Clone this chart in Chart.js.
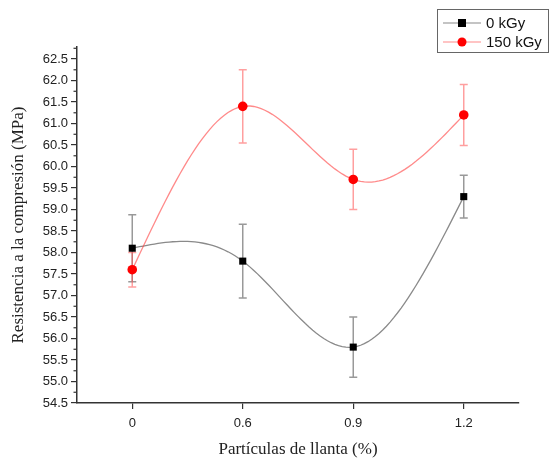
<!DOCTYPE html>
<html>
<head>
<meta charset="utf-8">
<script src="https://cdn.jsdelivr.net/npm/chart.js@4/dist/chart.umd.min.js"></script>
<style>
  html, body { margin: 0; padding: 0; background: #fff; }
  #wrap { width: 551px; height: 458px; }
</style>
</head>
<body>
<div id="wrap"><canvas id="resChart" width="551" height="458"></canvas></div>
<script>
// data
const particulas = ['0', '0.6', '0.9', '1.2'];
const res0kGy = [58.1, 57.8, 55.8, 59.3];
const err0kGy = [0.78, 0.86, 0.7, 0.5];
const res150kGy = [57.6, 61.4, 59.7, 61.2];
const err150kGy = [0.4, 0.85, 0.7, 0.71];
const yTicks = [54.5, 55.0, 55.5, 56.0, 56.5, 57.0, 57.5, 58.0, 58.5, 59.0, 59.5, 60.0, 60.5, 61.0, 61.5, 62.0, 62.5];

const tickFont = { family: 'Liberation Sans, Arial, sans-serif', size: 13 };
const titleFont = { family: 'Liberation Serif, Times New Roman, serif', size: 17, lineHeight: 1 };

// natural cubic spline second derivatives (equal spacing)
function splineM(ys) {
    const n = ys.length;
    const M = new Array(n).fill(0);
    if (n < 3) return M;
    const a = [], b = [], c = [], d = [];
    for (let i = 1; i < n - 1; i++) {
        a.push(1); b.push(4); c.push(1);
        d.push(6 * (ys[i - 1] - 2 * ys[i] + ys[i + 1]));
    }
    const m = d.length;
    for (let i = 1; i < m; i++) {
        const w = a[i] / b[i - 1];
        b[i] -= w * c[i - 1];
        d[i] -= w * d[i - 1];
    }
    const sol = new Array(m);
    sol[m - 1] = d[m - 1] / b[m - 1];
    for (let i = m - 2; i >= 0; i--) sol[i] = (d[i] - c[i] * sol[i + 1]) / b[i];
    for (let i = 0; i < m; i++) M[i + 1] = sol[i];
    return M;
}

// error bars and spline curves, drawn under the markers
const errorBarsAndSpline = {
    id: 'errorBarsAndSpline',
    beforeDatasetsDraw(chart) {
        const ctx = chart.ctx;
        const y = chart.scales.y;
        chart.data.datasets.forEach((ds, i) => {
            const meta = chart.getDatasetMeta(i);
            ctx.save();
            ctx.strokeStyle = ds.errColor;
            ctx.lineWidth = 1.5;
            meta.data.forEach((pt, j) => {
                const top = y.getPixelForValue(ds.data[j] + ds.err[j]);
                const bot = y.getPixelForValue(ds.data[j] - ds.err[j]);
                ctx.beginPath();
                ctx.moveTo(pt.x, top); ctx.lineTo(pt.x, bot);
                ctx.moveTo(pt.x - 4, top); ctx.lineTo(pt.x + 4, top);
                ctx.moveTo(pt.x - 4, bot); ctx.lineTo(pt.x + 4, bot);
                ctx.stroke();
            });
            ctx.restore();
        });
        chart.data.datasets.forEach((ds, i) => {
            const pts = chart.getDatasetMeta(i).data;
            const ys = pts.map(p => p.y);
            const M = splineM(ys);
            ctx.save();
            ctx.strokeStyle = ds.borderColor;
            ctx.lineWidth = 1.3;
            ctx.beginPath();
            ctx.moveTo(pts[0].x, pts[0].y);
            for (let k = 0; k < pts.length - 1; k++) {
                for (let s = 1; s <= 30; s++) {
                    const t = s / 30, u = 1 - t;
                    const py = ys[k] * u + ys[k + 1] * t +
                        (M[k] * (u * u * u - u) + M[k + 1] * (t * t * t - t)) / 6;
                    const px = pts[k].x + (pts[k + 1].x - pts[k].x) * t;
                    ctx.lineTo(px, py);
                }
            }
            ctx.stroke();
            ctx.restore();
        });
    }
};

// minor ticks on the y axis and the boxed legend
const extras = {
    id: 'extras',
    afterDraw(chart) {
        const ctx = chart.ctx;
        const y = chart.scales.y;
        const left = chart.chartArea.left;
        ctx.save();
        ctx.strokeStyle = '#333';
        ctx.lineWidth = 1.2;
        for (let i = 0; i < yTicks.length; i++) {
            const py = y.getPixelForValue(yTicks[i] + 0.25);
            if (py < chart.chartArea.top) continue;
            ctx.beginPath();
            ctx.moveTo(left - 3.5, py); ctx.lineTo(left, py);
            ctx.stroke();
        }
        // legend
        ctx.fillStyle = '#fff';
        ctx.strokeStyle = '#666';
        ctx.lineWidth = 1;
        ctx.fillRect(437.5, 9.5, 111, 43);
        ctx.strokeRect(437.5, 9.5, 111, 43);
        ctx.font = '15px Liberation Sans, Arial, sans-serif';
        ctx.textBaseline = 'middle';
        chart.data.datasets.forEach((ds, i) => {
            const ly = 23 + i * 19;
            ctx.strokeStyle = ds.borderColor;
            ctx.lineWidth = 1.2;
            ctx.beginPath();
            ctx.moveTo(443, ly); ctx.lineTo(481, ly);
            ctx.stroke();
            ctx.fillStyle = ds.pointBackgroundColor;
            if (ds.pointStyle === 'rect') {
                ctx.fillRect(458, ly - 4, 8, 8);
            } else {
                ctx.beginPath();
                ctx.arc(462, ly, 4.5, 0, Math.PI * 2);
                ctx.fill();
            }
            ctx.fillStyle = '#111';
            ctx.fillText(ds.label, 486, ly + 1);
        });
        ctx.restore();
    }
};

new Chart(document.getElementById('resChart'), {
    type: 'line',
    data: {
        labels: particulas,
        datasets: [{
            label: '0 kGy',
            data: res0kGy,
            err: err0kGy,
            errColor: '#999',
            borderColor: '#8a8a8a',
            showLine: false,
            pointStyle: 'rect',
            pointRadius: 5,
            pointBackgroundColor: '#000',
            pointBorderColor: '#000',
            pointBorderWidth: 0
        }, {
            label: '150 kGy',
            data: res150kGy,
            err: err150kGy,
            errColor: 'rgba(255,80,80,0.55)',
            borderColor: 'rgba(255,60,60,0.6)',
            showLine: false,
            pointStyle: 'circle',
            pointRadius: 4.8,
            pointBackgroundColor: '#f00',
            pointBorderColor: '#f00',
            pointBorderWidth: 0
        }]
    },
    options: {
        responsive: false,
        animation: false,
        layout: { padding: { top: 47, right: 32, left: 0, bottom: 0 } },
        plugins: { legend: { display: false }, tooltip: { enabled: false } },
        scales: {
            x: {
                offset: true,
                grid: { offset: false, drawOnChartArea: false, color: '#333', tickLength: 6, lineWidth: 1.2 },
                border: { color: '#333', width: 1.5 },
                ticks: { font: tickFont, color: '#222', padding: 7, maxRotation: 0 },
                title: { display: true, text: 'Partículas de llanta (%)', font: titleFont, color: '#222', padding: 0 },
                afterFit(scale) { scale.height = 55; }
            },
            y: {
                min: 54.5,
                max: 62.78,
                afterBuildTicks(scale) { scale.ticks = yTicks.map(v => ({ value: v })); },
                grid: { drawOnChartArea: false, color: '#333', tickLength: 6, lineWidth: 1.2 },
                border: { color: '#333', width: 1.5 },
                ticks: { font: tickFont, color: '#222', padding: 3, callback: v => v.toFixed(1) },
                title: { display: true, text: 'Resistencia a la compresión (MPa)', font: titleFont, color: '#222', padding: { top: 10, bottom: 0 } },
                afterFit(scale) { scale.width = 77; }
            }
        }
    },
    plugins: [errorBarsAndSpline, extras]
});
</script>
</body>
</html>
